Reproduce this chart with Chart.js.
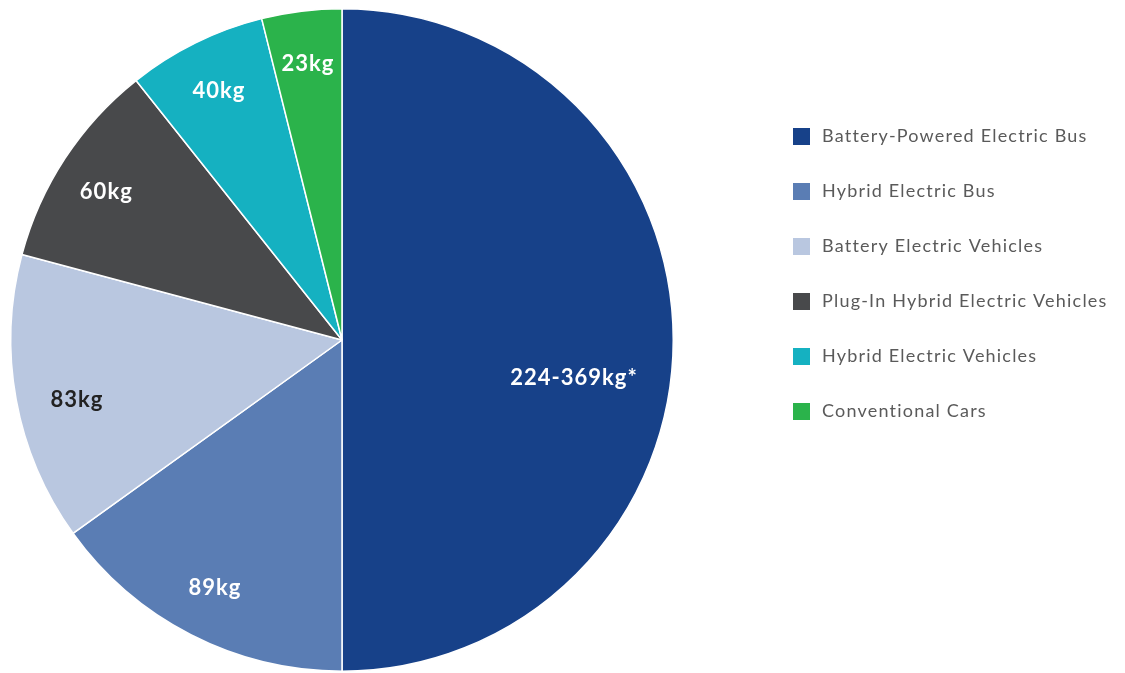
<!DOCTYPE html>
<html>
<head>
<meta charset="utf-8">
<script src="https://cdn.jsdelivr.net/npm/chart.js@4"></script>
<style>
  html, body { margin: 0; padding: 0; background: #fff; }
  #wrap { width: 1125px; height: 673px; position: relative; }
</style>
</head>
<body>
<div id="wrap"><canvas id="pieChart" width="1125" height="673"></canvas></div>
<script>
// Data (the bus slice is drawn as half the pie)
const categories = ['Battery-Powered Electric Bus', 'Hybrid Electric Bus', 'Battery Electric Vehicles',
    'Plug-In Hybrid Electric Vehicles', 'Hybrid Electric Vehicles', 'Conventional Cars'];
const sliceValues = [295, 89, 83, 60, 40, 23];
const sliceLabels = ['224-369kg*', '89kg', '83kg', '60kg', '40kg', '23kg'];
const sliceColors = ['#174189', '#5a7db4', '#b9c7e0', '#48494b', '#15b1c1', '#2bb34b'];
const labelColors = ['#ffffff', '#ffffff', '#222222', '#ffffff', '#ffffff', '#ffffff'];

// Draw labels inside each slice
const sliceLabelPlugin = {
    id: 'sliceLabels',
    afterDatasetsDraw(chart) {
        const ctx = chart.ctx;
        const arcs = chart.getDatasetMeta(0).data;
        // small per-slice nudges so labels sit where the original has them
        const angleShift = [0.163, 0, -0.04, -0.02, 0, 0];
        const radiusFrac = [0.71, 0.84, 0.82, 0.84, 0.84, 0.84];
        ctx.save();
        ctx.font = "bold 22px Lato, 'Open Sans', sans-serif";
        ctx.letterSpacing = '1px';
        ctx.textAlign = 'center';
        ctx.textBaseline = 'middle';
        arcs.forEach((arc, i) => {
            const p = arc.getProps(['x', 'y', 'startAngle', 'endAngle', 'outerRadius'], true);
            const mid = (p.startAngle + p.endAngle) / 2 + angleShift[i];
            const x = p.x + Math.cos(mid) * p.outerRadius * radiusFrac[i];
            const y = p.y + Math.sin(mid) * p.outerRadius * radiusFrac[i];
            ctx.fillStyle = labelColors[i];
            ctx.fillText(sliceLabels[i], x, y);
        });
        ctx.restore();
    }
};

// Legend on the right side
const sideLegendPlugin = {
    id: 'sideLegend',
    afterDraw(chart) {
        const ctx = chart.ctx;
        ctx.save();
        ctx.font = "18px Lato, 'Open Sans', sans-serif";
        ctx.letterSpacing = '1.2px';
        ctx.textBaseline = 'middle';
        categories.forEach((name, i) => {
            const y = 136 + i * 55;
            ctx.fillStyle = sliceColors[i];
            ctx.fillRect(793, y - 8, 17, 17);
            ctx.fillStyle = '#5a5a5a';
            ctx.fillText(name, 822, y);
        });
        ctx.restore();
    }
};

new Chart(document.getElementById('pieChart').getContext('2d'), {
    type: 'pie',
    data: {
        labels: categories,
        datasets: [{
            data: sliceValues,
            backgroundColor: sliceColors,
            borderColor: '#ffffff',
            borderWidth: 1.5
        }]
    },
    options: {
        responsive: false,
        animation: false,
        layout: { padding: { top: 8, bottom: 1, left: 10, right: 451 } },
        plugins: {
            legend: { display: false },
            tooltip: { enabled: false }
        }
    },
    plugins: [sliceLabelPlugin, sideLegendPlugin]
});
</script>
</body>
</html>
